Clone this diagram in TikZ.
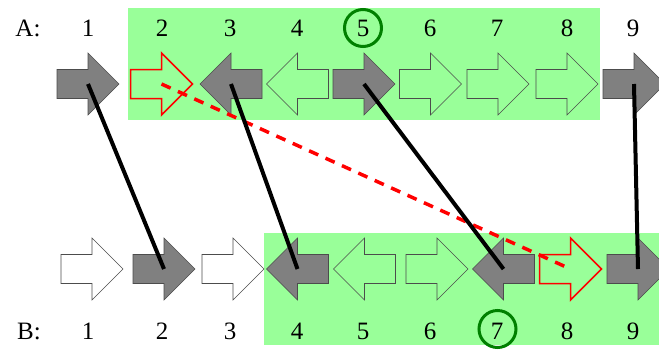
\documentclass[tikz,border=0pt]{standalone}
\usepackage{fontspec}
\setmainfont{Liberation Serif}
\definecolor{lgreen}{RGB}{153,255,153}
\definecolor{dgreen}{RGB}{0,128,0}
\definecolor{dgray}{RGB}{128,128,128}
\tikzset{
  x=1pt, y=-1pt,
  lbl/.style={font=\fontsize{25}{25}\selectfont, inner sep=0pt},
  hit/.style={line width=4pt, black},
  miss/.style={line width=3.5pt, red, dash pattern=on 10pt off 8pt},
  ring/.style={draw=dgreen, line width=3pt},
  fullarr/.style={fill=dgray, draw=black!70, line width=0.6pt},
  greenarr/.style={fill=lgreen, draw=black!70, line width=0.6pt},
  whitearr/.style={fill=white, draw=black!70, line width=0.6pt},
  redarr/.style={draw=red, line width=1.5pt},
  % arrow pointing right, centred on the pic origin
  rarr/.pic={
    \path[pic actions] (-31,-14.5) -- (0,-14.5) -- (0,-31) -- (31,0)
      -- (0,31) -- (0,14.5) -- (-31,14.5) -- cycle;
    \coordinate (-c) at (0,0);
  },
  % arrow pointing left
  larr/.pic={
    \path[pic actions] (31,-14.5) -- (0,-14.5) -- (0,-31) -- (-31,0)
      -- (0,31) -- (0,14.5) -- (31,14.5) -- cycle;
    \coordinate (-c) at (0,0);
  },
}
\begin{document}
\begin{tikzpicture}
\useasboundingbox (0,0) rectangle (659,349);

% highlighted ranges
\fill[lgreen] (128,8) rectangle (600,120);
\fill[lgreen] (264,233) rectangle (659,345);

% row A
\node[lbl] (la) at (28,28) {A:};
\foreach \n/\x in {1/88,2/162,3/230,4/297,5/363,6/430,7/497,8/567,9/633}
  \node[lbl] (na\n) at (\x,28) {\n};
\pic[fullarr]  (A1) at (88,84)    {rarr};
\pic[redarr]   (A2) at (161.5,84) {rarr};
\pic[fullarr]  (A3) at (231,84)   {larr};
\pic[greenarr] (A4) at (297.5,84) {larr};
\pic[fullarr]  (A5) at (364,84)   {rarr};
\pic[greenarr] (A6) at (430.5,84) {rarr};
\pic[greenarr] (A7) at (498,84)   {rarr};
\pic[greenarr] (A8) at (567,84)   {rarr};
\pic[fullarr]  (A9) at (634,84)   {rarr};
\draw[ring] (na5) circle[radius=18.5];

% row B
\node[lbl] (lb) at (29,331) {B:};
\foreach \n/\x in {1/88,2/162,3/230,4/297,5/363,6/430,7/497,8/567,9/633}
  \node[lbl] (nb\n) at (\x,331) {\n};
\pic[whitearr] (B1) at (92,269)    {rarr};
\pic[fullarr]  (B2) at (164,269)   {rarr};
\pic[whitearr] (B3) at (233,269)   {rarr};
\pic[fullarr]  (B4) at (297.5,269) {larr};
\pic[greenarr] (B5) at (364.5,269) {larr};
\pic[greenarr] (B6) at (437,269)   {rarr};
\pic[fullarr]  (B7) at (503.5,269) {larr};
\pic[redarr]   (B8) at (570.5,269) {rarr};
\pic[fullarr]  (B9) at (638,269)   {rarr};
\draw[ring] (497.5,329) circle[radius=18.5];

% correspondences
\draw[miss] (A2-c) -- (B8-c);
\draw[hit] (A1-c) -- (B2-c);
\draw[hit] (A3-c) -- (B4-c);
\draw[hit] (A5-c) -- (B7-c);
\draw[hit] (A9-c) -- (B9-c);
\end{tikzpicture}
\end{document}
